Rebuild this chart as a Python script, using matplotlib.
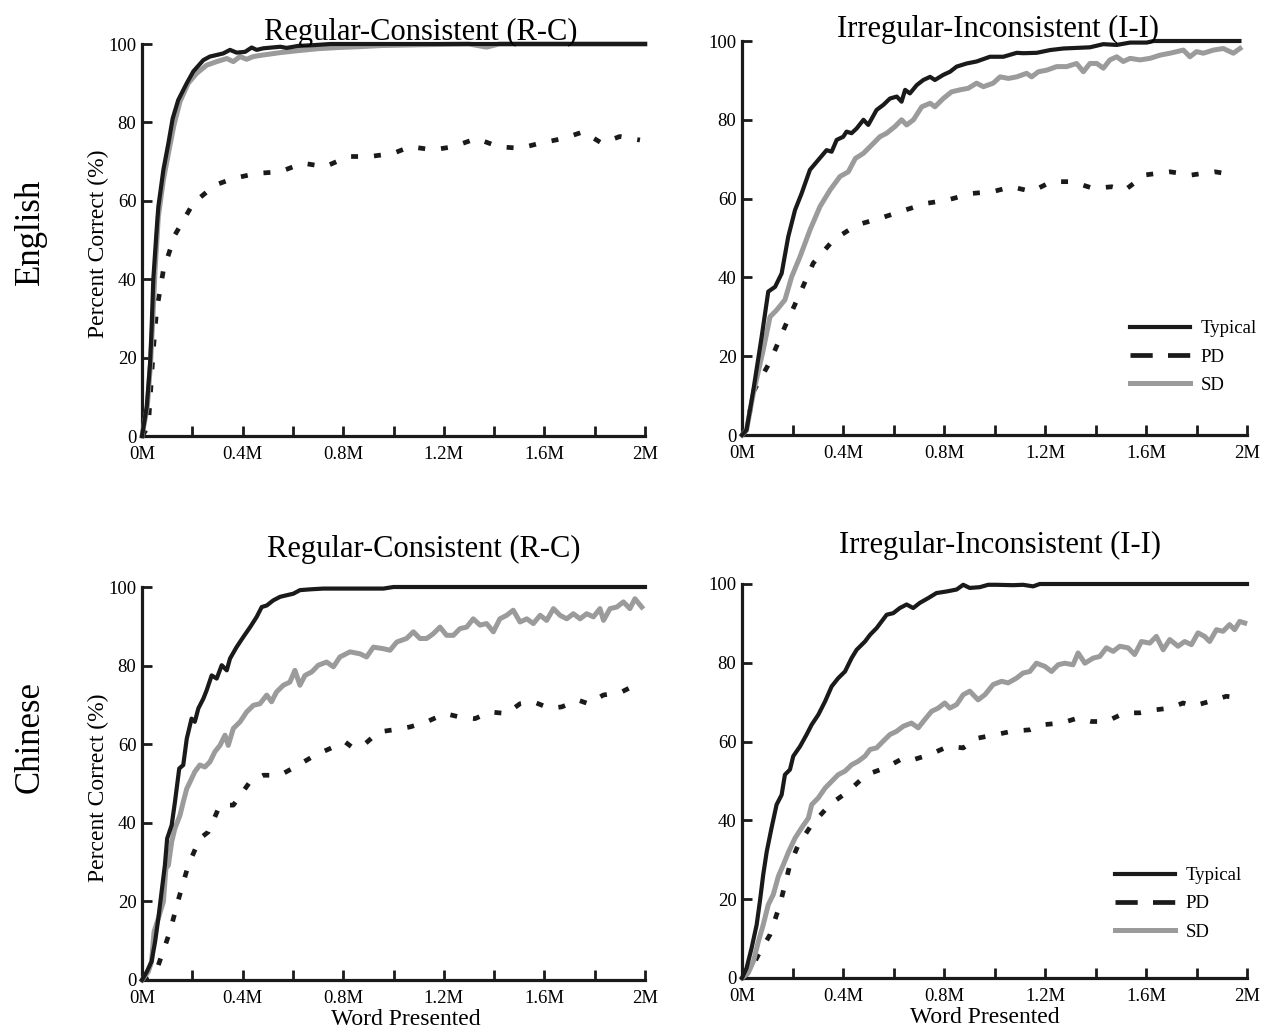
import matplotlib
matplotlib.use('Agg')
import matplotlib.pyplot as plt
from matplotlib.lines import Line2D

plt.rcParams['font.family'] = ['Liberation Serif', 'DejaVu Serif']
plt.rcParams['lines.scale_dashes'] = False

# ---------------- data (x in millions of words presented, y in percent correct) -------------
# English, Regular-Consistent
en_rc_typ_x = [0, 0.019, 0.032, 0.038, 0.045, 0.058, 0.065, 0.085, 0.105, 0.122, 0.144, 0.178, 0.204,
               0.244, 0.27, 0.297, 0.323, 0.35, 0.376, 0.41, 0.436, 0.456, 0.482, 0.55, 0.575, 0.62,
               0.68, 0.75, 2.0]
en_rc_typ_y = [0, 7.5, 18.5, 27, 40, 52.4, 58.5, 67.9, 74.7, 81, 85.7, 90, 93,
               95.9, 96.8, 97.2, 97.6, 98.5, 97.8, 98, 99.1, 98.5, 98.9, 99.3, 99.0, 99.5,
               99.7, 100, 100]
en_rc_sd_x = [0, 0.021, 0.034, 0.042, 0.052, 0.065, 0.085, 0.105, 0.127, 0.151, 0.184, 0.217, 0.257,
              0.297, 0.337, 0.363, 0.39, 0.416, 0.443, 0.482, 0.549, 0.62, 0.7, 0.78, 0.86, 0.95,
              1.1, 1.3, 1.37, 1.42, 2.0]
en_rc_sd_y = [0, 7.5, 18.5, 28.7, 42.3, 56, 65.3, 72.1, 79.3, 85.3, 90, 92.5, 94.6,
              95.5, 96.3, 95.5, 96.8, 96.1, 96.8, 97.2, 97.8, 98.3, 98.8, 99.1, 99.3, 99.6,
              99.8, 100, 99.2, 100, 100]
en_rc_pd_x = [0, 0.025, 0.045, 0.058, 0.085, 0.131, 0.204, 0.29, 0.363, 0.456, 0.549, 0.639, 0.728,
              0.82, 0.907, 0.999, 1.066, 1.158, 1.238, 1.33, 1.417, 1.503, 1.583, 1.675, 1.755,
              1.828, 1.9, 1.98]
en_rc_pd_y = [0, 2.4, 22, 32, 42.3, 51.3, 59.4, 64, 65.7, 67, 67.4, 69.6, 68.7,
              71.3, 71.3, 72.1, 73.8, 73, 73.8, 75.9, 73.8, 73.4, 74.7, 75.9, 77.6,
              74.7, 76.4, 75.5]

# English, Irregular-Inconsistent
en_ii_typ_x = [0, 0.018, 0.045, 0.078, 0.104, 0.131, 0.157, 0.183, 0.21, 0.236, 0.269, 0.302, 0.335,
               0.355, 0.375, 0.401, 0.414, 0.434, 0.454, 0.481, 0.5, 0.533, 0.56, 0.586, 0.613,
               0.632, 0.646, 0.665, 0.692, 0.718, 0.745, 0.764, 0.797, 0.824, 0.85, 0.89, 0.929,
               0.982, 1.035, 1.088, 1.114, 1.167, 1.22, 1.273, 1.378, 1.431, 1.484, 1.537, 1.603,
               1.63, 1.97]
en_ii_typ_y = [0, 1.3, 11.4, 25, 36.4, 37.6, 41, 50.3, 57.1, 61.3, 67.3, 69.8, 72.3,
               71.9, 74.9, 75.7, 77, 76.6, 77.8, 80, 78.7, 82.5, 83.8, 85.4, 85.9,
               84.6, 87.6, 86.7, 88.8, 90.1, 90.9, 90.1, 91.4, 92.2, 93.5, 94.3, 94.8,
               96, 96, 97, 96.9, 97, 97.7, 98.1, 98.4, 99.2, 99, 99.6, 99.6,
               100, 100]
en_ii_sd_x = [0, 0.018, 0.045, 0.084, 0.111, 0.137, 0.17, 0.197, 0.23, 0.269, 0.309, 0.349, 0.388,
              0.421, 0.449, 0.481, 0.52, 0.546, 0.573, 0.606, 0.632, 0.652, 0.679, 0.712, 0.745,
              0.764, 0.797, 0.83, 0.863, 0.896, 0.929, 0.956, 0.995, 1.022, 1.055, 1.088, 1.127,
              1.147, 1.174, 1.207, 1.246, 1.286, 1.325, 1.352, 1.378, 1.405, 1.431, 1.457, 1.484,
              1.51, 1.537, 1.576, 1.616, 1.655, 1.695, 1.722, 1.748, 1.774, 1.8, 1.827, 1.867,
              1.906, 1.946, 1.972]
en_ii_sd_y = [0, 1.3, 10.6, 21.6, 30, 31.7, 34.3, 40.2, 45.3, 52, 58, 62.2, 65.6,
              66.8, 70.2, 71.5, 74, 75.7, 76.6, 78.3, 80, 78.7, 80, 83.3, 84.2,
              83.3, 85.4, 87.1, 87.6, 88, 89.3, 88.4, 89.3, 90.9, 90.5, 90.9, 91.8,
              90.9, 92.2, 92.6, 93.5, 93.5, 94.3, 92.2, 94.3, 94.3, 93.1, 95.2, 96,
              94.8, 95.6, 95.2, 95.6, 96.4, 96.9, 97.3, 97.7, 96, 97.3, 96.9, 97.7,
              98.1, 96.9, 98.1]
en_ii_pd_x = [0, 0.018, 0.045, 0.111, 0.17, 0.23, 0.282, 0.362, 0.454, 0.547, 0.646, 0.731, 0.811,
              0.91, 0.995, 1.068, 1.147, 1.226, 1.306, 1.391, 1.464, 1.517, 1.596, 1.695, 1.781,
              1.873, 1.952]
en_ii_pd_y = [0, 1.3, 11, 18.6, 27.5, 36, 43.6, 49.5, 53.3, 55, 57.1, 58.8, 59.6,
              61.3, 61.8, 63, 61.8, 64.3, 64.3, 62.6, 63, 62.2, 66, 66.8, 66,
              66.8, 66]

# Chinese, Regular-Consistent
zh_rc_typ_x = [0, 0.019, 0.038, 0.052, 0.065, 0.078, 0.091, 0.1, 0.118, 0.131, 0.148, 0.164, 0.178,
               0.197, 0.21, 0.224, 0.244, 0.257, 0.277, 0.297, 0.317, 0.337, 0.35, 0.376, 0.403,
               0.43, 0.456, 0.476, 0.496, 0.522, 0.549, 0.575, 0.602, 0.628, 0.668, 0.721, 0.774,
               0.854, 0.96, 1.0, 2.0]
zh_rc_typ_y = [0, 2.1, 4.7, 9.7, 15.7, 22.5, 29.2, 36, 39.4, 45.3, 53.8, 54.7, 61.4,
               66.5, 65.7, 69.1, 71.6, 73.7, 77.5, 76.7, 80.1, 78.8, 81.8, 84.7, 87.3,
               89.8, 92.4, 94.9, 95.3, 96.6, 97.5, 97.9, 98.3, 99.2, 99.4, 99.6, 99.6,
               99.6, 99.6, 100, 100]
zh_rc_sd_x = [0, 0.025, 0.038, 0.048, 0.065, 0.085, 0.095, 0.105, 0.118, 0.131, 0.151, 0.164, 0.178,
              0.191, 0.21, 0.23, 0.25, 0.27, 0.29, 0.31, 0.33, 0.343, 0.363, 0.39, 0.416,
              0.443, 0.469, 0.496, 0.515, 0.535, 0.562, 0.588, 0.608, 0.628, 0.648, 0.675, 0.701,
              0.734, 0.761, 0.787, 0.827, 0.867, 0.893, 0.92, 0.96, 0.986, 1.013, 1.052, 1.079,
              1.105, 1.132, 1.158, 1.185, 1.211, 1.238, 1.264, 1.291, 1.317, 1.344, 1.37, 1.397,
              1.423, 1.45, 1.476, 1.503, 1.53, 1.556, 1.583, 1.609, 1.636, 1.662, 1.689, 1.715,
              1.742, 1.768, 1.795, 1.821, 1.835, 1.861, 1.888, 1.914, 1.94, 1.96, 1.987]
zh_rc_sd_y = [0, 2.1, 4.7, 12.3, 15.7, 19.9, 28.4, 29.2, 35.2, 38.6, 41.9, 45.3, 48.7,
              50.4, 53, 54.7, 54.2, 55.5, 58.1, 59.7, 62.3, 59.7, 64, 65.7, 68.2,
              69.9, 70.3, 72.5, 70.8, 73.3, 75, 75.8, 78.8, 75, 77.5, 78.4, 80.1,
              80.9, 79.7, 82.2, 83.5, 83, 82.2, 84.7, 84.3, 83.9, 86, 86.9, 88.6,
              86.9, 86.9, 88.1, 89.8, 87.7, 87.7, 89.4, 89.8, 91.9, 90.3, 90.7, 88.6,
              91.9, 92.8, 94.1, 91.1, 91.9, 90.7, 92.8, 91.5, 94.5, 92.8, 91.9, 93.2,
              91.9, 93.2, 92.4, 94.5, 91.5, 94.5, 94.9, 96.2, 94.5, 97, 94.9]
zh_rc_pd_x = [0, 0.03, 0.065, 0.111, 0.144, 0.184, 0.23, 0.264, 0.31, 0.363, 0.429, 0.482, 0.549,
              0.622, 0.688, 0.748, 0.807, 0.834, 0.88, 0.94, 0.993, 1.066, 1.132, 1.205, 1.264,
              1.324, 1.384, 1.45, 1.503, 1.556, 1.622, 1.669, 1.735, 1.775, 1.834, 1.907, 1.96]
zh_rc_pd_y = [0, 0.8, 3.8, 12.3, 20.3, 29.2, 36, 37.7, 44.5, 44.5, 50.4, 52.1, 52.1,
              54.7, 57.2, 58.9, 60.6, 59.3, 59.7, 63.1, 63.6, 64.4, 65.7, 67.8, 66.9,
              66.5, 68.2, 67.8, 70.3, 70.8, 69.1, 69.5, 71.2, 70.3, 72.5, 73.3, 75]

# Chinese, Irregular-Inconsistent
zh_ii_typ_x = [0, 0.018, 0.038, 0.058, 0.071, 0.084, 0.098, 0.117, 0.137, 0.157, 0.17, 0.19, 0.203,
               0.23, 0.256, 0.276, 0.302, 0.329, 0.355, 0.381, 0.408, 0.434, 0.454, 0.487, 0.507,
               0.533, 0.573, 0.599, 0.625, 0.652, 0.678, 0.704, 0.737, 0.77, 0.81, 0.85, 0.876,
               0.902, 0.942, 0.975, 1.008, 1.074, 1.113, 1.153, 1.179, 2.0]
zh_ii_typ_y = [0, 2.5, 7.6, 13.5, 19.5, 26.2, 32.1, 38.1, 44, 46.5, 51.6, 52.9, 56.3,
               58.8, 61.8, 64.3, 66.8, 70.2, 74, 76.1, 77.8, 81.2, 83.3, 85.4, 87.1,
               88.8, 92.2, 92.6, 93.9, 94.8, 93.9, 95.2, 96.4, 97.7, 98.1, 98.6, 99.8,
               99, 99.2, 99.8, 99.8, 99.7, 99.8, 99.4, 100, 100]
zh_ii_sd_x = [0, 0.025, 0.045, 0.065, 0.084, 0.104, 0.124, 0.144, 0.164, 0.185, 0.21, 0.236, 0.263,
              0.276, 0.302, 0.329, 0.355, 0.381, 0.408, 0.434, 0.46, 0.487, 0.507, 0.533, 0.559,
              0.586, 0.612, 0.639, 0.671, 0.698, 0.724, 0.751, 0.777, 0.803, 0.823, 0.85, 0.876,
              0.902, 0.935, 0.962, 0.995, 1.028, 1.054, 1.087, 1.113, 1.14, 1.166, 1.199, 1.226,
              1.252, 1.278, 1.311, 1.331, 1.358, 1.391, 1.417, 1.443, 1.47, 1.496, 1.529, 1.555,
              1.582, 1.615, 1.641, 1.668, 1.694, 1.727, 1.753, 1.78, 1.806, 1.832, 1.852, 1.879,
              1.905, 1.931, 1.951, 1.971, 1.991]
zh_ii_sd_y = [0, 1.3, 4.2, 9.3, 13.5, 18.6, 21.2, 25.8, 28.8, 32.1, 35.5, 38.1, 40.6,
              44, 45.7, 48.2, 49.9, 51.6, 52.5, 54.1, 55, 56.3, 58, 58.4, 60.1,
              61.8, 62.6, 63.9, 64.7, 63.5, 65.6, 67.7, 68.5, 69.8, 68.5, 69.4, 71.9,
              72.8, 70.6, 71.9, 74.5, 75.3, 74.9, 76.1, 77.4, 77.8, 79.9, 79.1, 77.8,
              79.5, 79.9, 79.5, 82.5, 79.9, 81.2, 81.6, 83.8, 82.9, 84.2, 83.8, 82.1,
              85.4, 85, 86.7, 83.3, 85.9, 84.2, 85.4, 84.6, 87.6, 86.7, 85.4, 88.4,
              88, 89.7, 88.4, 90.5, 90.1]
zh_ii_pd_x = [0, 0.03, 0.065, 0.111, 0.15, 0.19, 0.223, 0.276, 0.348, 0.421, 0.493, 0.566, 0.639,
              0.678, 0.744, 0.817, 0.876, 0.935, 1.008, 1.067, 1.14, 1.193, 1.265, 1.331, 1.384,
              1.443, 1.516, 1.575, 1.641, 1.694, 1.747, 1.786, 1.852, 1.918, 1.971]
zh_ii_pd_y = [0, 1.5, 5.9, 11, 18.6, 28.8, 33.8, 38.9, 44, 47.4, 51.6, 53.3, 55.8,
              55.4, 56.7, 58.8, 58.4, 60.9, 61.8, 62.6, 63, 64.3, 64.7, 66, 65.1,
              65.1, 67.3, 67.3, 68.1, 68.5, 69.8, 69, 70.2, 71.5, 71.1]

series_labels = ['Typical', 'PD', 'SD']
x_ticks = [0, 0.2, 0.4, 0.6, 0.8, 1.0, 1.2, 1.4, 1.6, 1.8, 2.0]
x_tick_labels = ['0M', '', '0.4M', '', '0.8M', '', '1.2M', '', '1.6M', '', '2M']
y_ticks = [0, 20, 40, 60, 80, 100]
panel_titles = ['Regular-Consistent (R-C)', 'Irregular-Inconsistent (I-I)']
row_labels = ['English', 'Chinese']

# ---------------- styling ----------------
BLACK = '#1a1a1a'
GRAY = '#9b9b9b'
W, H = 1269, 1030
fig = plt.figure(figsize=(W / 100, H / 100), dpi=100)


def add_axes_px(x0, x1, ytop, ybot):
    return fig.add_axes([x0 / W, 1 - ybot / H, (x1 - x0) / W, (ybot - ytop) / H])


axes = {
    ('en', 'rc'): add_axes_px(142, 645, 44, 436),
    ('en', 'ii'): add_axes_px(742, 1247, 41, 435),
    ('zh', 'rc'): add_axes_px(142, 645, 587, 980),
    ('zh', 'ii'): add_axes_px(742, 1247, 584, 978),
}

data = {
    ('en', 'rc'): ((en_rc_typ_x, en_rc_typ_y), (en_rc_pd_x, en_rc_pd_y), (en_rc_sd_x, en_rc_sd_y)),
    ('en', 'ii'): ((en_ii_typ_x, en_ii_typ_y), (en_ii_pd_x, en_ii_pd_y), (en_ii_sd_x, en_ii_sd_y)),
    ('zh', 'rc'): ((zh_rc_typ_x, zh_rc_typ_y), (zh_rc_pd_x, zh_rc_pd_y), (zh_rc_sd_x, zh_rc_sd_y)),
    ('zh', 'ii'): ((zh_ii_typ_x, zh_ii_typ_y), (zh_ii_pd_x, zh_ii_pd_y), (zh_ii_sd_x, zh_ii_sd_y)),
}

PD_DASH = (0, (5.0, 11.5))

for key, ax in axes.items():
    (tx, ty), (px, py), (sx, sy) = data[key]
    ax.plot(px, py, color=BLACK, lw=3.4, linestyle=PD_DASH, clip_on=False, zorder=2)
    ax.plot(sx, sy, color=GRAY, lw=3.6, clip_on=False, zorder=3)
    ax.plot(tx, ty, color=BLACK, lw=3.0, clip_on=False, zorder=4)

    ax.set_xlim(0, 2.0)
    ax.set_ylim(0, 100)
    for s in ['top', 'right']:
        ax.spines[s].set_visible(False)
    for s in ['left', 'bottom']:
        ax.spines[s].set_linewidth(2.3)
        ax.spines[s].set_color(BLACK)
        ax.spines[s].set_capstyle('projecting')
    ax.set_xticks(x_ticks)
    ax.set_xticklabels(x_tick_labels)
    ax.set_yticks(y_ticks)
    ax.set_yticklabels([str(v) for v in y_ticks])
    ax.tick_params(direction='in', length=7, width=2.0, color=BLACK, labelsize=13.5)
    ax.tick_params(axis='x', pad=7)
    ax.tick_params(axis='y', pad=4)
    ax.patch.set_visible(False)

# y labels (left column)
for key in [('en', 'rc'), ('zh', 'rc')]:
    ax = axes[key]
    ax.set_ylabel('Percent Correct (%)', fontsize=17)
    ax.yaxis.set_label_coords(-0.066, 0.49)

# x labels (bottom row)
for key, xc in [(('zh', 'rc'), 0.525), (('zh', 'ii'), 0.481)]:
    ax = axes[key]
    ax.set_xlabel('Word Presented', fontsize=17)
    ax.xaxis.set_label_coords(xc, -0.1145)
    ax.xaxis.label.set_verticalalignment('baseline')

# titles
title_pos = [(421, 40, panel_titles[0]), (998, 37, panel_titles[1]),
             (424, 557, panel_titles[0]), (1000, 553, panel_titles[1])]
for x, y, t in title_pos:
    fig.text(x / W, 1 - y / H, t, ha='center', va='baseline', fontsize=22)

# row labels
fig.text(30 / W, 1 - 232 / H, row_labels[0], rotation=90, ha='center', va='center', fontsize=25)
fig.text(30 / W, 1 - 737 / H, row_labels[1], rotation=90, ha='center', va='center', fontsize=25)

# legends
handles = [Line2D([], [], color=BLACK, lw=3.0),
           Line2D([], [], color=BLACK, lw=3.4, linestyle=(0, (16, 11))),
           Line2D([], [], color=GRAY, lw=3.6)]
for key, lx, ly in [(('en', 'ii'), 1130, 320), (('zh', 'ii'), 1115, 867)]:
    axes[key].legend(handles, series_labels, loc='upper left',
                     bbox_to_anchor=(lx / W, 1 - ly / H), bbox_transform=fig.transFigure,
                     frameon=False, fontsize=13.5, handlelength=3.2, handletextpad=0.55,
                     labelspacing=0.6, borderpad=0, borderaxespad=0)

fig.savefig('out.png', dpi=100)
